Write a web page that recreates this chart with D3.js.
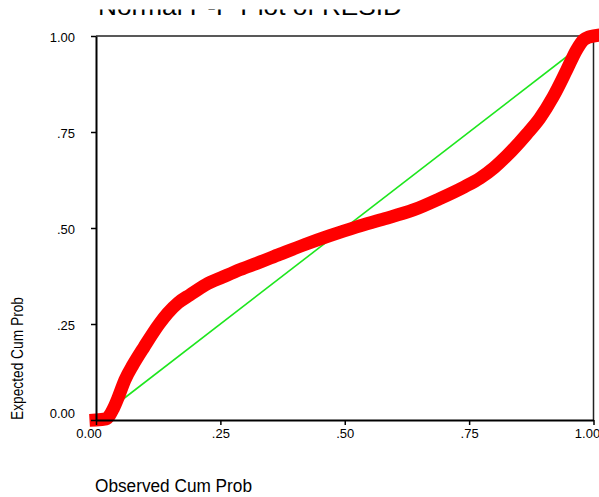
<!DOCTYPE html>
<html>
<head>
<meta charset="utf-8">
<script src="https://cdn.jsdelivr.net/npm/d3@7"></script>
<style>
  html, body { margin: 0; padding: 0; background: #fff; }
  svg { display: block; font-family: "Liberation Sans", Arial, sans-serif; }
</style>
</head>
<body>
<svg id="chart" width="599" height="497"></svg>
<script>
// Observed vs expected cumulative probability of the residuals
const observedCumProb = [0.000, 0.020, 0.035, 0.045, 0.058, 0.075, 0.097, 0.127, 0.144, 0.165,
  0.189, 0.220, 0.256, 0.290, 0.323, 0.370, 0.420, 0.470, 0.524, 0.571,
  0.638, 0.690, 0.740, 0.772, 0.800, 0.825, 0.866, 0.892, 0.919, 0.946,
  0.966, 0.980, 0.990, 1.000];
const expectedCumProb = [0.000, 0.003, 0.030, 0.060, 0.104, 0.145, 0.191, 0.250, 0.278, 0.305,
  0.326, 0.352, 0.373, 0.392, 0.408, 0.432, 0.457, 0.480, 0.503, 0.521,
  0.547, 0.576, 0.607, 0.630, 0.657, 0.687, 0.745, 0.786, 0.842, 0.911,
  0.964, 0.990, 0.997, 1.000];

// Reference diagonal (expected = observed)
const diagonal = [0, 1];

const tickValues = [0, 0.25, 0.5, 0.75, 1];
const xTickLabels = ["0.00", ".25", ".50", ".75", "1.00"];
const yTickLabels = ["0.00", ".25", ".50", ".75", "1.00"];

const titleText = "Normal P-P Plot of RESID";
const xTitle = "Observed Cum Prob";
const yTitle = "Expected Cum Prob";

const svg = d3.select("#chart");
const plotLeft = 96, plotRight = 593.5, plotTop = 36, plotBottom = 420;

const x = d3.scaleLinear().domain([0, 1]).range([plotLeft, plotRight]);
const y = d3.scaleLinear().domain([0, 1]).range([plotBottom, plotTop]);

// The page starts just below the title's upper part, so only its foot shows
svg.append("clipPath").attr("id", "title-clip")
  .append("rect").attr("x", 0).attr("y", 9.5).attr("width", 599).attr("height", 30);

svg.append("text")
  .attr("clip-path", "url(#title-clip)")
  .attr("x", 98).attr("y", 14.5)
  .attr("font-size", 24)
  .attr("textLength", 304).attr("lengthAdjust", "spacingAndGlyphs")
  .attr("fill", "#000")
  .text(titleText);

// Frame top and right
svg.append("line").attr("x1", plotLeft).attr("x2", plotRight).attr("y1", plotTop).attr("y2", plotTop)
  .attr("stroke", "#222").attr("stroke-width", 1.5);
svg.append("line").attr("x1", plotRight).attr("x2", plotRight).attr("y1", plotTop).attr("y2", plotBottom)
  .attr("stroke", "#222").attr("stroke-width", 1.5);

// Diagonal reference line
svg.append("line")
  .attr("x1", x(diagonal[0])).attr("y1", y(diagonal[0]))
  .attr("x2", x(diagonal[1])).attr("y2", y(diagonal[1]))
  .attr("stroke", "#1ee61e").attr("stroke-width", 1.6);

// Residual points as a dense thick band
const pts = observedCumProb.map((o, i) => [o, expectedCumProb[i]]);
const line = d3.line().x(d => x(d[0])).y(d => y(d[1])).curve(d3.curveMonotoneX);
svg.append("path")
  .attr("d", line(pts))
  .attr("fill", "none")
  .attr("stroke", "#ff0000")
  .attr("stroke-width", 13)
  .attr("stroke-linejoin", "round")
  .attr("stroke-linecap", "square");

// Axes
const xAxis = d3.axisBottom(x).tickValues(tickValues)
  .tickFormat((d, i) => xTickLabels[i]).tickSize(5).tickSizeOuter(0);
const yAxis = d3.axisLeft(y).tickValues(tickValues)
  .tickFormat((d, i) => yTickLabels[i]).tickSize(5).tickSizeOuter(0);

const gx = svg.append("g").attr("transform", `translate(0,${plotBottom})`).call(xAxis);
const gy = svg.append("g").attr("transform", `translate(${plotLeft},0)`).call(yAxis);

[gx, gy].forEach(g => {
  g.select(".domain").attr("stroke", "#000").attr("stroke-width", 2);
  g.selectAll(".tick line").attr("stroke", "#000").attr("stroke-width", 1.5);
  g.selectAll(".tick text").attr("font-family", "Liberation Sans, Arial, sans-serif")
    .attr("font-size", 13).attr("fill", "#000");
});

gx.selectAll(".tick text").attr("y", 9).attr("dy", "0.71em");
gx.selectAll(".tick text").filter((d, i) => i === 0).attr("x", -7.5);
gx.selectAll(".tick text").filter((d, i) => i === 4).attr("x", -6.5);

gy.selectAll(".tick text").attr("x", -21).attr("dy", "0.45em");
gy.selectAll(".tick text").filter((d, i) => i === 0).attr("dy", "-0.2em");

// Axis titles
svg.append("text")
  .attr("x", 95).attr("y", 491.5)
  .attr("font-size", 18)
  .attr("textLength", 157).attr("lengthAdjust", "spacingAndGlyphs")
  .attr("fill", "#000")
  .text(xTitle);

svg.append("text")
  .attr("transform", "translate(23,420) rotate(-90)")
  .attr("font-size", 16)
  .attr("textLength", 123).attr("lengthAdjust", "spacingAndGlyphs")
  .attr("fill", "#000")
  .text(yTitle);
</script>
</body>
</html>
